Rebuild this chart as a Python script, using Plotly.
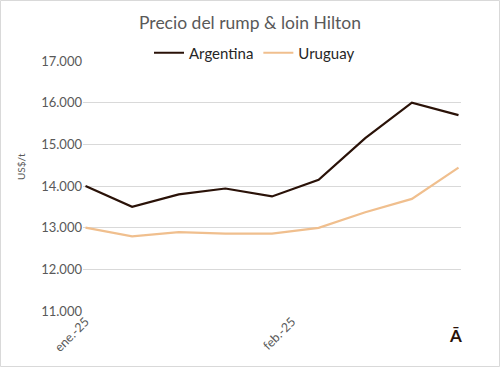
import plotly.graph_objects as go

dates = ["2025-01-01", "2025-01-08", "2025-01-15", "2025-01-22", "2025-01-29",
         "2025-02-05", "2025-02-12", "2025-02-19", "2025-02-26"]
argentina = [14000, 13500, 13800, 13940, 13750, 14150, 15150, 16000, 15700]
uruguay = [13000, 12790, 12895, 12855, 12855, 12995, 13370, 13690, 14440]

x_tickvals = ["2025-01-01", "2025-02-01"]
x_ticktext = ["ene.-25", "feb.-25"]
last_label = "Ā"
y_tickvals = [11000, 12000, 13000, 14000, 15000, 16000, 17000]
y_ticktext = ["11.000", "12.000", "13.000", "14.000", "15.000", "16.000", "17.000"]

FONT = "Lato"
L, R, T, B = 83, 39, 61, 56
PW = 500 - L - R
PH = 367 - T - B

fig = go.Figure()
fig.add_trace(go.Scatter(x=dates, y=argentina, name="Argentina", mode="lines",
                         line=dict(color="#2a1208", width=2.2)))
fig.add_trace(go.Scatter(x=dates, y=uruguay, name="Uruguay", mode="lines",
                         line=dict(color="#f0bf8e", width=2.2)))

fig.update_layout(
    width=500, height=367,
    margin=dict(l=L, r=R, t=T, b=B, autoexpand=False),
    paper_bgcolor="white", plot_bgcolor="white",
    font=dict(family=FONT, color="#595959", size=13),
    title=dict(text="Precio del rump & loin Hilton", x=0.5, xanchor="center",
               y=1 - 23 / 367, yanchor="middle",
               font=dict(size=17.5, color="#595959", family=FONT)),
    legend=dict(orientation="h", x=(149 - L) / PW, xanchor="left", y=1 - 53 / 367,
                yref="container", yanchor="middle", itemwidth=30,
                font=dict(size=15, color="#262626", family=FONT),
                bgcolor="rgba(0,0,0,0)"),
    showlegend=True,
    xaxis=dict(type="date", range=["2024-12-31 15:00", "2025-02-26 09:00"],
               tickvals=x_tickvals, ticktext=x_ticktext, tickangle=-45,
               showgrid=False, zeroline=False, showline=False, ticks="",
               tickfont=dict(size=12.5, color="#595959", family=FONT)),
    yaxis=dict(range=[11000, 17000], tickvals=y_tickvals, ticktext=y_ticktext,
               showgrid=True, gridcolor="#d9d9d9", gridwidth=1,
               zeroline=False, showline=False, ticks="",
               tickfont=dict(size=13, color="#595959", family=FONT)),
    annotations=[
        dict(text="US$/t", xref="paper", yref="paper",
             x=(21 - L) / PW, y=(367 - B - 167) / PH,
             xanchor="center", yanchor="middle", textangle=-90,
             showarrow=False, font=dict(size=10, color="#595959", family=FONT)),
        dict(text="<b>" + last_label + "</b>", xref="x", yref="paper",
             x=dates[-1], y=(367 - B - 335) / PH, xanchor="center", yanchor="middle",
             xshift=-3, showarrow=False,
             font=dict(size=17, color="#2a1208", family=FONT)),
    ],
    shapes=[dict(type="rect", xref="paper", yref="paper",
                 x0=(0.5 - L) / PW, x1=(499.5 - L) / PW,
                 y0=(-B + 0.5) / PH, y1=(PH + T - 0.5) / PH,
                 line=dict(color="#d9d9d9", width=1), layer="below")],
)

fig.write_html("out.html", config={"displayModeBar": False},
               post_script="document.body.style.margin='0';document.body.style.padding='0';"
                           "document.body.style.overflow='hidden';")
